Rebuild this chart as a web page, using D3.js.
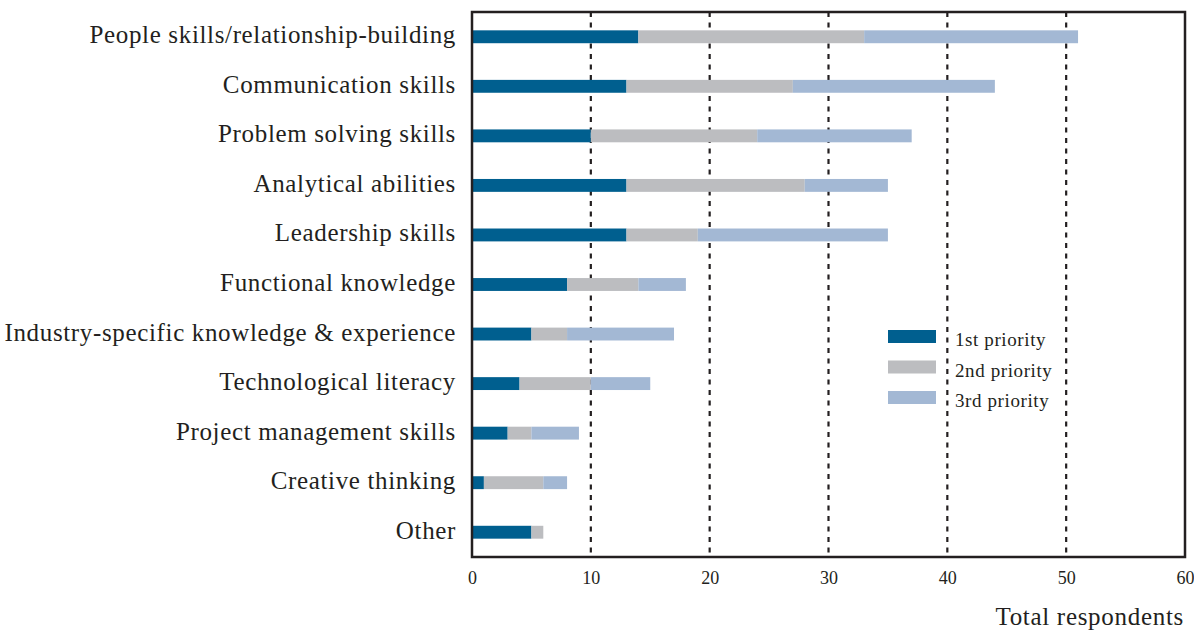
<!DOCTYPE html>
<html>
<head>
<meta charset="utf-8">
<script src="https://cdn.jsdelivr.net/npm/d3@7"></script>
<style>
  html, body { margin: 0; padding: 0; background: #fff; }
  svg { display: block; }
  text { font-family: "Liberation Serif", serif; fill: #231f20; }
</style>
</head>
<body>
<svg id="chart" width="1194" height="635"></svg>
<script>
const categories = [
  "People skills/relationship-building",
  "Communication skills",
  "Problem solving skills",
  "Analytical abilities",
  "Leadership skills",
  "Functional knowledge",
  "Industry-specific knowledge & experience",
  "Technological literacy",
  "Project management skills",
  "Creative thinking",
  "Other"
];
const seriesNames = ["1st priority", "2nd priority", "3rd priority"];
const first  = [14, 13, 10, 13, 13, 8, 5, 4, 3, 1, 5];
const second = [19, 14, 14, 15, 6, 6, 3, 6, 2, 5, 1];
const third  = [18, 17, 13, 7, 16, 4, 9, 5, 4, 2, 0];
const xTicks = [0, 10, 20, 30, 40, 50, 60];
const colors = ["#005f8f", "#bcbdc0", "#a3b8d4"];

const svg = d3.select("#chart");
const m = { left: 472, right: 1185, top: 12, bottom: 557 };

const x = d3.scaleLinear().domain([0, 60]).range([m.left, m.right]);
const y = d3.scaleBand().domain(categories).range([m.top, m.bottom]).paddingInner(0.74).paddingOuter(0.37);

const rows = categories.map((c, i) => ({ cat: c, "1st priority": first[i], "2nd priority": second[i], "3rd priority": third[i] }));
const stacked = d3.stack().keys(seriesNames)(rows);

svg.append("g").selectAll("line")
  .data(xTicks.filter(t => t > 0 && t < 60))
  .join("line")
  .attr("x1", d => x(d)).attr("x2", d => x(d))
  .attr("y1", m.top).attr("y2", m.bottom)
  .attr("stroke", "#231f20").attr("stroke-width", 2.2)
  .attr("stroke-dasharray", "5,5.5");

svg.append("g").selectAll("g")
  .data(stacked)
  .join("g")
  .attr("fill", (d, i) => colors[i])
  .selectAll("rect")
  .data(d => d)
  .join("rect")
  .attr("x", d => x(d[0]))
  .attr("width", d => x(d[1]) - x(d[0]))
  .attr("y", d => y(d.data.cat))
  .attr("height", y.bandwidth());

svg.append("rect")
  .attr("x", m.left).attr("y", m.top)
  .attr("width", m.right - m.left).attr("height", m.bottom - m.top)
  .attr("fill", "none").attr("stroke", "#231f20").attr("stroke-width", 2.5);

const xAxis = d3.axisBottom(x).tickValues(xTicks).tickSize(0).tickPadding(14);
const gx = svg.append("g").attr("transform", `translate(0,${m.bottom})`).call(xAxis);
gx.select(".domain").remove();
gx.selectAll("text").attr("font-size", 18).attr("font-family", "Liberation Serif").attr("fill", "#231f20");

const yAxis = d3.axisLeft(y).tickSize(0).tickPadding(16);
const gy = svg.append("g").attr("transform", `translate(${m.left},0)`).call(yAxis);
gy.select(".domain").remove();
gy.selectAll("text").attr("font-size", 25).attr("letter-spacing", 0.65).attr("dy", "0.26em")
  .attr("font-family", "Liberation Serif").attr("fill", "#231f20");

svg.append("text")
  .attr("x", 1184).attr("y", 625)
  .attr("text-anchor", "end")
  .attr("font-size", 25).attr("letter-spacing", 0.7)
  .text("Total respondents");

const lg = svg.append("g").attr("transform", "translate(888,330)");
seriesNames.forEach((s, i) => {
  lg.append("rect").attr("x", 0).attr("y", i * 30.5).attr("width", 48).attr("height", 13).attr("fill", colors[i]);
  lg.append("text").attr("x", 67).attr("y", i * 30.5 + 16).attr("font-size", 19).attr("letter-spacing", 0.6).text(s);
});
</script>
</body>
</html>
